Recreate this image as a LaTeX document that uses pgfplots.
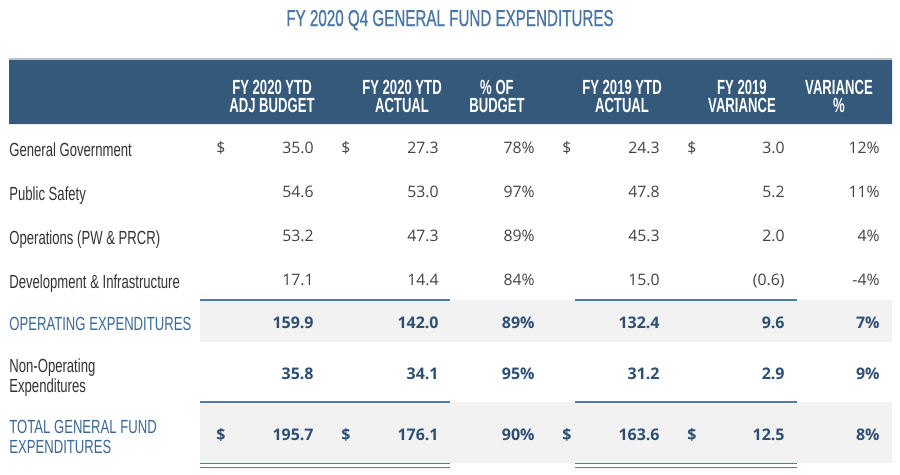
\documentclass[border=0pt]{standalone}
\usepackage{pgfplots}
\pgfplotsset{compat=1.18}
\usepackage{fontspec}
\setmainfont{Open Sans}
\newfontfamily\condT[FakeStretch=0.66,FakeBold=0.6]{Liberation Sans}
\newfontfamily\condH[FakeStretch=0.64]{Liberation Sans}
\newfontfamily\condL[FakeStretch=0.69]{Liberation Sans}
\newfontfamily\numf{Open Sans}
\definecolor{titlec}{HTML}{4A76A5}
\definecolor{hdr}{HTML}{35597B}
\definecolor{hdrline}{HTML}{B8C4D0}
\definecolor{labc}{HTML}{333333}
\definecolor{numc}{HTML}{444444}
\definecolor{bluelab}{HTML}{3C6896}
\definecolor{boldc}{HTML}{2D4F75}
\definecolor{rowg}{HTML}{F2F2F2}
\definecolor{linec}{HTML}{4F7BAA}
% column right edges (px): 314 439 535 660 785 880
\newcommand{\numrow}[8]{%
 \node[anchor=base east,inner sep=0pt,font=#8] at (axis cs:314,#1) {#2};
 \node[anchor=base east,inner sep=0pt,font=#8] at (axis cs:439,#1) {#3};
 \node[anchor=base east,inner sep=0pt,font=#8] at (axis cs:535,#1) {#4};
 \node[anchor=base east,inner sep=0pt,font=#8] at (axis cs:660,#1) {#5};
 \node[anchor=base east,inner sep=0pt,font=#8] at (axis cs:785,#1) {#6};
 \node[anchor=base east,inner sep=0pt,font=#8] at (axis cs:880,#1) {#7};}
\newcommand{\dollars}[2]{%
 \node[anchor=base,inner sep=0pt,font=#2] at (axis cs:221,#1) {\$};
 \node[anchor=base,inner sep=0pt,font=#2] at (axis cs:346,#1) {\$};
 \node[anchor=base,inner sep=0pt,font=#2] at (axis cs:567,#1) {\$};
 \node[anchor=base,inner sep=0pt,font=#2] at (axis cs:692,#1) {\$};}
\newcommand{\hd}[3]{%
 \node[anchor=base,inner sep=0pt,text=white,font=\condH\bfseries\fontsize{10.25}{12}\selectfont] at (axis cs:#1,94) {#2};
 \node[anchor=base,inner sep=0pt,text=white,font=\condH\bfseries\fontsize{10.25}{12}\selectfont] at (axis cs:#1,112) {#3};}
\begin{document}
\begin{tikzpicture}
\begin{axis}[
  scale only axis, width=450pt, height=237pt,
  xmin=0, xmax=900, ymin=0, ymax=474, y dir=reverse,
  hide axis, clip=false]
% background
\addplot[fill=white,draw=none] coordinates {(0,0)(900,0)(900,474)(0,474)(0,0)};
% header band
\addplot[fill=hdr,draw=none] coordinates {(9,59)(892,59)(892,124)(9,124)(9,59)};
\addplot[draw=hdrline,line width=0.6pt] coordinates {(9,59)(892,59)};
% shaded rows
\addplot[fill=rowg,draw=none] coordinates {(200,300)(892,300)(892,342)(200,342)(200,300)};
\addplot[fill=rowg,draw=none] coordinates {(200,402)(892,402)(892,463)(200,463)(200,402)};
% rules
\addplot[draw=linec,line width=0.8pt] coordinates {(200,300)(450,300)};
\addplot[draw=linec,line width=0.8pt] coordinates {(575,300)(797,300)};
\addplot[draw=linec,line width=0.8pt] coordinates {(200,402)(450,402)};
\addplot[draw=linec,line width=0.8pt] coordinates {(575,402)(797,402)};
\addplot[draw=linec,line width=0.6pt] coordinates {(200,463)(450,463)};
\addplot[draw=linec,line width=0.6pt] coordinates {(575,463)(797,463)};
\addplot[draw=linec,line width=0.6pt] coordinates {(200,467)(450,467)};
\addplot[draw=linec,line width=0.6pt] coordinates {(575,467)(797,467)};
% title
\node[anchor=base,inner sep=0pt,text=titlec,font=\condT\fontsize{11.5}{13}\selectfont] at (axis cs:450,26) {FY 2020 Q4 GENERAL FUND EXPENDITURES};
% header
\hd{272}{FY 2020 YTD}{ADJ BUDGET}
\hd{402}{FY 2020 YTD}{ACTUAL}
\hd{497}{\% OF}{BUDGET}
\hd{622}{FY 2019 YTD}{ACTUAL}
\hd{742}{FY 2019}{VARIANCE}
\hd{839}{VARIANCE}{\%}
% row labels
\node[anchor=base west,inner sep=0pt,text=labc,font=\condL\fontsize{9.5}{11}\selectfont] at (axis cs:9,156) {General Government};
\node[anchor=base west,inner sep=0pt,text=labc,font=\condL\fontsize{9.5}{11}\selectfont] at (axis cs:9,200) {Public Safety};
\node[anchor=base west,inner sep=0pt,text=labc,font=\condL\fontsize{9.5}{11}\selectfont] at (axis cs:9,244) {Operations (PW \& PRCR)};
\node[anchor=base west,inner sep=0pt,text=labc,font=\condL\fontsize{9.5}{11}\selectfont] at (axis cs:9,288) {Development \& Infrastructure};
\node[anchor=base west,inner sep=0pt,text=bluelab,font=\condL\fontsize{9.5}{11}\selectfont] at (axis cs:9,330) {OPERATING EXPENDITURES};
\node[anchor=base west,inner sep=0pt,text=labc,font=\condL\fontsize{9.5}{11}\selectfont] at (axis cs:9,372) {Non-Operating};
\node[anchor=base west,inner sep=0pt,text=labc,font=\condL\fontsize{9.5}{11}\selectfont] at (axis cs:9,392) {Expenditures};
\node[anchor=base west,inner sep=0pt,text=bluelab,font=\condL\fontsize{9.5}{11}\selectfont] at (axis cs:9,433) {TOTAL GENERAL FUND};
\node[anchor=base west,inner sep=0pt,text=bluelab,font=\condL\fontsize{9.5}{11}\selectfont] at (axis cs:9,453) {EXPENDITURES};
% numbers
\numrow{153}{35.0}{27.3}{78\%}{24.3}{3.0}{12\%}{\color{numc}\numf\fontsize{7.9}{9}\selectfont}
\dollars{153}{\color{numc}\numf\fontsize{7.9}{9}\selectfont}
\numrow{197}{54.6}{53.0}{97\%}{47.8}{5.2}{11\%}{\color{numc}\numf\fontsize{7.9}{9}\selectfont}
\numrow{241}{53.2}{47.3}{89\%}{45.3}{2.0}{4\%}{\color{numc}\numf\fontsize{7.9}{9}\selectfont}
\numrow{285}{17.1}{14.4}{84\%}{15.0}{(0.6)}{-4\%}{\color{numc}\numf\fontsize{7.9}{9}\selectfont}
\numrow{328}{159.9}{142.0}{89\%}{132.4}{9.6}{7\%}{\color{boldc}\numf\bfseries\fontsize{8}{9}\selectfont}
\numrow{379}{35.8}{34.1}{95\%}{31.2}{2.9}{9\%}{\color{boldc}\numf\bfseries\fontsize{8}{9}\selectfont}
\numrow{440}{195.7}{176.1}{90\%}{163.6}{12.5}{8\%}{\color{boldc}\numf\bfseries\fontsize{8}{9}\selectfont}
\dollars{440}{\color{boldc}\numf\bfseries\fontsize{8}{9}\selectfont}
\end{axis}
\end{tikzpicture}
\end{document}
